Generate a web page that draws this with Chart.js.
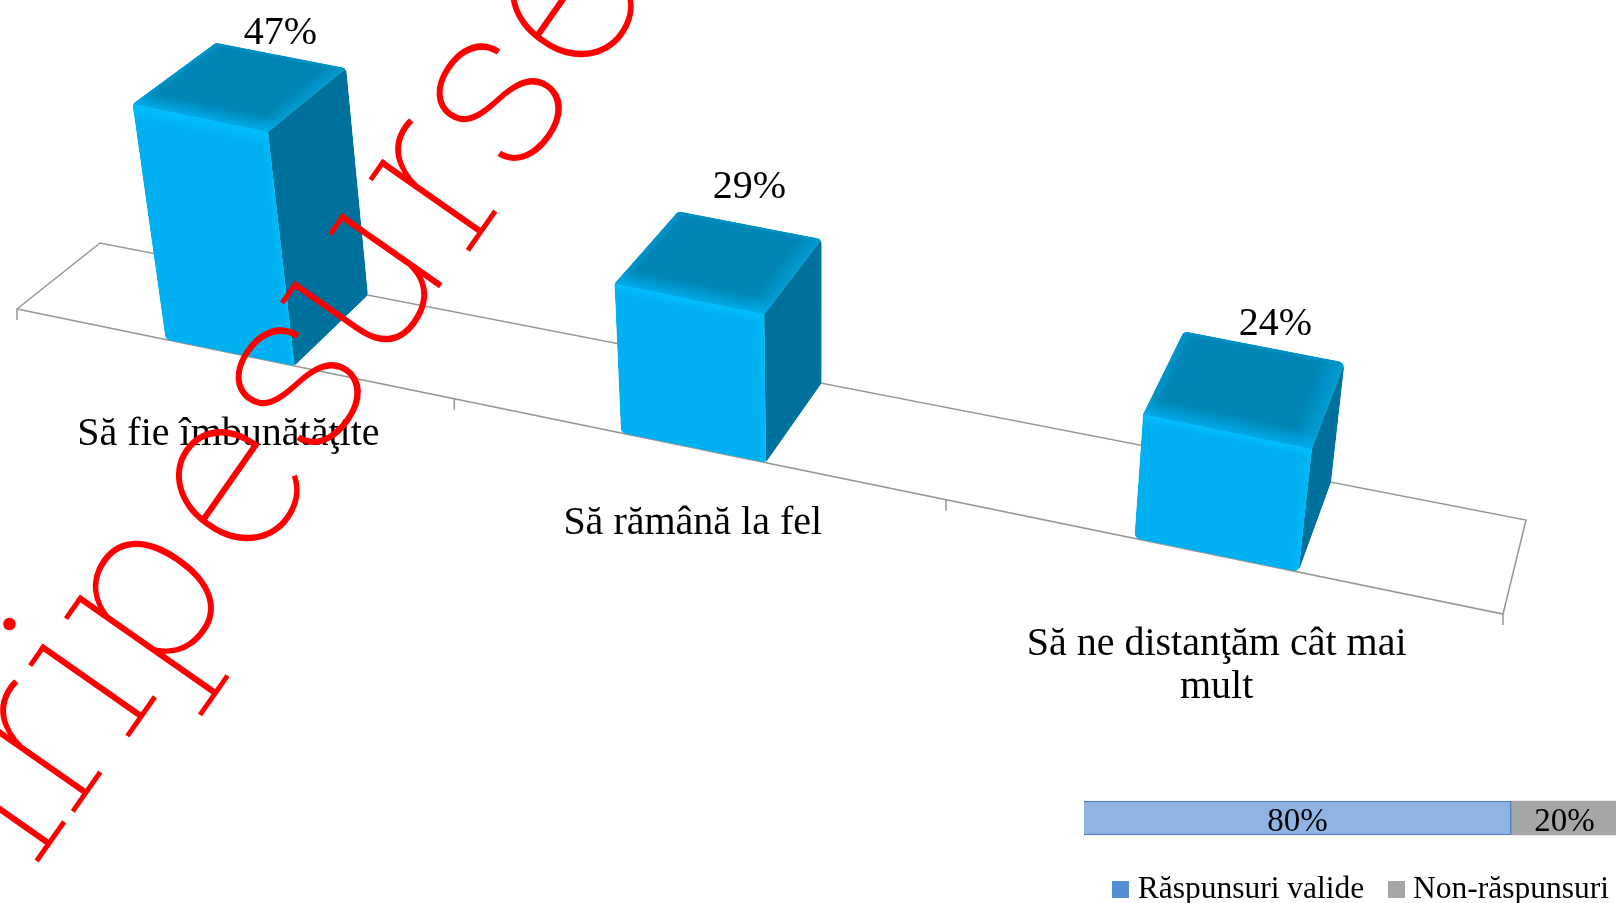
<!DOCTYPE html>
<html>
<head>
<meta charset="utf-8">
<title>Chart</title>
<script src="https://cdn.jsdelivr.net/npm/chart.js@4"></script>
<style>
    html, body { margin: 0; padding: 0; background: #fff; overflow: hidden; width: 1616px; height: 903px; }
    canvas { position: absolute; display: block; }
</style>
</head>
<body>
<canvas id="mainChart" width="1616" height="903" style="left:0;top:0"></canvas>
<canvas id="responseChart" width="640" height="165" style="left:1000px;top:750px"></canvas>
<script>
// Chart data
const categories = ['Să fie îmbunătăţite', 'Să rămână la fel', ['Să ne distanţăm cât mai', 'mult']];
const shares = [47, 29, 24];
const responseLabels = ['Răspunsuri valide', 'Non-răspunsuri'];
const responseShares = [80, 20];

// Watermark letters, drawn over the chart
const watermarkLetters = ['n', 'r', 'i', 'p', 'e', 's', 'u', 'r', 's', 'e'];
const watermarkCentres = [[-24, 843], [46, 745], [92, 682], [153, 599], [236, 488], [299, 386], [368, 285], [441, 184], [500, 102], [570, 4]];
// small slab serifs on the stems: [stem x, flag on top, foot on baseline, foot on descender]
const watermarkSerifs = [
    [[44, false, true, false]],
    [[-15, true, true, false]],
    [[0, true, true, false]],
    [[-44, true, false, true]],
    [], [],
    [[-42, true, false, false], [42, true, false, false]],
    [[-15, true, true, false]],
    [], []
];

const serif = '"Liberation Serif", serif';

// Floor corners of the tilted plot, used to project the flat scales
const floorQuad = { fl: [17, 309], fr: [1503, 614], br: [1526, 520], bl: [100, 243] };
const vanish = [820, 5000];
const heightGain = 0.103;
const labelNudge = [[0, -22], [0, -38], [12, -22]];
const categoryNudge = [[-1, 82], [0, 76], [1, 89]];

// unit square -> floor quad
const { fl, fr, br, bl } = floorQuad;
const sx = fl[0] - fr[0] + br[0] - bl[0], sy = fl[1] - fr[1] + br[1] - bl[1];
const dx1 = fr[0] - br[0], dy1 = fr[1] - br[1], dx2 = bl[0] - br[0], dy2 = bl[1] - br[1];
const det = dx1 * dy2 - dx2 * dy1;
const g = (sx * dy2 - dx2 * sy) / det, h = (dx1 * sy - sx * dy1) / det;
const m = [fr[0] - fl[0] + g * fr[0], bl[0] - fl[0] + h * bl[0], fl[0],
           fr[1] - fl[1] + g * fr[1], bl[1] - fl[1] + h * bl[1], fl[1]];

function project(u, d, lift) {
    const w = g * u + h * d + 1;
    const x = (m[0] * u + m[1] * d + m[2]) / w;
    const y = (m[3] * u + m[4] * d + m[5]) / w;
    const s = 1 + heightGain * lift * (1 - 0.045 * d);
    return [vanish[0] + (x - vanish[0]) * s, vanish[1] + (y - vanish[1]) * s];
}

function roundedPath(ctx, pts, r) {
    ctx.beginPath();
    const n = pts.length;
    ctx.moveTo((pts[0][0] + pts[1][0]) / 2, (pts[0][1] + pts[1][1]) / 2);
    for (let i = 1; i <= n; i++) {
        const a = pts[i % n], b = pts[(i + 1) % n];
        ctx.arcTo(a[0], a[1], b[0], b[1], r);
    }
    ctx.closePath();
}

function polygon(ctx, pts, color) {
    ctx.fillStyle = color;
    ctx.beginPath();
    pts.forEach((p, i) => {
        if (i === 0) ctx.moveTo(p[0], p[1]); else ctx.lineTo(p[0], p[1]);
    });
    ctx.closePath();
    ctx.fill();
}

function mix(a, b, t) {
    return [a[0] + (b[0] - a[0]) * t, a[1] + (b[1] - a[1]) * t];
}

// bevel strip: edge a-b fades out toward c-d, colour bands stay parallel to the edge
function strip(ctx, a, b, c, d, rgb) {
    const ex = b[0] - a[0], ey = b[1] - a[1], len = Math.hypot(ex, ey);
    const nx = -ey / len, ny = ex / len;
    const dist = (c[0] - a[0]) * nx + (c[1] - a[1]) * ny;
    const grad = ctx.createLinearGradient(a[0], a[1], a[0] + nx * dist, a[1] + ny * dist);
    grad.addColorStop(0, 'rgba(' + rgb + ',1)');
    grad.addColorStop(1, 'rgba(' + rgb + ',0)');
    polygon(ctx, [a, b, d, c], grad);
}

function drawBar(ctx, u0, u1, lift) {
    const FL = project(u0, 0, 0), FR = project(u1, 0, 0), BR = project(u1, 1, 0);
    const TFL = project(u0, 0, lift), TFR = project(u1, 0, lift), TBR = project(u1, 1, lift), TBL = project(u0, 1, lift);

    ctx.save();
    roundedPath(ctx, [FL, FR, BR, TBR, TBL, TFL], 7);
    ctx.clip();

    polygon(ctx, [FR, BR, TBR, TFR], '#00719C');
    polygon(ctx, [TFL, TFR, TBR, TBL], '#0085B5');
    strip(ctx, TFR, TBR, mix(TFR, TFL, 0.14), mix(TBR, TBL, 0.14), '0,156,210');
    strip(ctx, TFL, TBL, mix(TFL, TFR, 0.06), mix(TBL, TBR, 0.06), '0,151,204');
    strip(ctx, TBL, TBR, mix(TBL, TFL, 0.05), mix(TBR, TFR, 0.05), '0,149,202');
    strip(ctx, TFL, TFR, mix(TFL, TBL, 0.2), mix(TFR, TBR, 0.2), '0,170,232');

    polygon(ctx, [FL, FR, TFR, TFL], '#00B0F0');
    strip(ctx, TFL, TFR, mix(TFL, FL, 0.07), mix(TFR, FR, 0.07), '0,190,255');
    strip(ctx, TFR, FR, mix(TFR, TFL, 0.05), mix(FR, FL, 0.05), '0,186,250');
    ctx.restore();
}

const tiltedBars = {
    id: 'tiltedBars',
    beforeDatasetDraw(chart) {
        const { ctx, chartArea, scales } = chart;
        const toU = px => (px - chartArea.left) / chartArea.width;
        const bars = chart.getDatasetMeta(0).data;

        // floor
        ctx.save();
        ctx.strokeStyle = '#969696';
        ctx.lineWidth = 1.5;
        ctx.beginPath();
        [project(0, 0, 0), project(1, 0, 0), project(1, 1, 0), project(0, 1, 0)].forEach((p, i) => {
            if (i === 0) ctx.moveTo(p[0], p[1]); else ctx.lineTo(p[0], p[1]);
        });
        ctx.closePath();
        for (let i = 0; i <= categories.length; i++) {
            const p = project(toU(scales.x.getPixelForValue(i - 0.5)), 0, 0);
            ctx.moveTo(p[0], p[1]);
            ctx.lineTo(p[0], p[1] + 11);
        }
        ctx.stroke();
        ctx.restore();

        bars.forEach(bar => {
            const lift = (chartArea.bottom - bar.y) / chartArea.height;
            drawBar(ctx, toU(bar.x - bar.width / 2), toU(bar.x + bar.width / 2), lift);
        });
        return false;
    },
    afterDatasetsDraw(chart) {
        const { ctx, chartArea, scales } = chart;
        const toU = px => (px - chartArea.left) / chartArea.width;
        ctx.save();
        ctx.fillStyle = '#000';
        ctx.textAlign = 'center';
        ctx.textBaseline = 'middle';
        ctx.font = '40px ' + serif;
        chart.getDatasetMeta(0).data.forEach((bar, i) => {
            const lift = (chartArea.bottom - bar.y) / chartArea.height;
            const p = project(toU(bar.x), 1, lift);
            ctx.fillText(shares[i] + '%', p[0] + labelNudge[i][0], p[1] + labelNudge[i][1]);
        });
        categories.forEach((label, i) => {
            const p = project(toU(scales.x.getPixelForTick(i)), 0, 0);
            [].concat(label).forEach((line, k) => {
                ctx.fillText(line, p[0] + categoryNudge[i][0], p[1] + categoryNudge[i][1] + k * 43);
            });
        });
        ctx.restore();
    },
    afterDraw(chart) {
        const { ctx } = chart;
        ctx.save();
        ctx.fillStyle = '#FF0000';
        ctx.strokeStyle = '#FF0000';
        ctx.lineWidth = 5;
        ctx.font = '100 232px Roboto';
        ctx.textAlign = 'center';
        watermarkLetters.forEach((letter, i) => {
            ctx.save();
            ctx.translate(watermarkCentres[i][0], watermarkCentres[i][1]);
            ctx.rotate(-55 * Math.PI / 180);
            ctx.fillText(letter, 0, 60);
            ctx.beginPath();
            watermarkSerifs[i].forEach(([x, flag, foot, descender]) => {
                if (flag) { ctx.moveTo(x - 22, -60); ctx.lineTo(x + 2, -60); }
                if (foot) { ctx.moveTo(x - 24, 60); ctx.lineTo(x + 24, 60); }
                if (descender) { ctx.moveTo(x - 24, 105); ctx.lineTo(x + 24, 105); }
            });
            ctx.stroke();
            ctx.restore();
        });
        ctx.restore();
    }
};

new Chart(document.getElementById('mainChart'), {
    type: 'bar',
    data: {
        labels: categories,
        datasets: [{ data: shares, backgroundColor: '#00B0F0', categoryPercentage: 1, barPercentage: 0.295 }]
    },
    options: {
        responsive: false,
        animation: false,
        layout: { padding: 0 },
        plugins: { legend: { display: false }, tooltip: { enabled: false } },
        scales: {
            x: { display: false },
            // the 3D bars stand a little above zero on their floor
            y: { display: false, min: -4, max: 100 }
        }
    },
    plugins: [tiltedBars]
});

// Legend swatch, wider than the box Chart.js reserves so the text sits close to it
function swatch(color) {
    const c = document.createElement('canvas');
    c.width = 17;
    c.height = 17;
    const cx = c.getContext('2d');
    cx.fillStyle = color;
    cx.fillRect(0, 0, 17, 17);
    return c;
}
const swatches = [swatch('#558ED5'), swatch('#A6A6A6')];

const barValues = {
    id: 'barValues',
    afterDatasetsDraw(chart) {
        const { ctx } = chart;
        ctx.save();
        ctx.fillStyle = '#000';
        ctx.font = '33px ' + serif;
        ctx.textAlign = 'center';
        ctx.textBaseline = 'middle';
        responseShares.forEach((share, i) => {
            const el = chart.getDatasetMeta(i).data[0];
            ctx.fillText(share + '%', (el.base + el.x) / 2, el.y + 4);
        });
        ctx.restore();
    }
};

new Chart(document.getElementById('responseChart'), {
    type: 'bar',
    data: {
        datasets: [
            { label: responseLabels[0], data: [{ x: responseShares[0], y: 0 }], backgroundColor: '#8EB4E3', borderColor: '#4F81BD', borderWidth: 1.5, barThickness: 34 },
            { label: responseLabels[1], data: [{ x: responseShares[1], y: 0 }], backgroundColor: '#A6A6A6', barThickness: 34 }
        ]
    },
    options: {
        indexAxis: 'y',
        responsive: false,
        animation: false,
        layout: { padding: 0 },
        plugins: {
            tooltip: { enabled: false },
            legend: {
                position: 'bottom',
                align: 'end',
                labels: {
                    font: { family: serif, size: 31.5 },
                    color: '#000',
                    usePointStyle: true,
                    pointStyleWidth: 2,
                    padding: 31,
                    generateLabels: () => responseLabels.map((text, i) => ({
                        text, pointStyle: swatches[i], datasetIndex: i, lineWidth: 0, fontColor: '#000'
                    }))
                }
            }
        },
        scales: {
            // the wide ranges only leave room on the canvas for the legend
            x: { display: false, stacked: true, min: -15.73, max: 104.12 },
            y: { type: 'linear', display: false, stacked: true, min: -0.147, max: 0.853 }
        }
    },
    plugins: [barValues]
});
</script>
</body>
</html>
